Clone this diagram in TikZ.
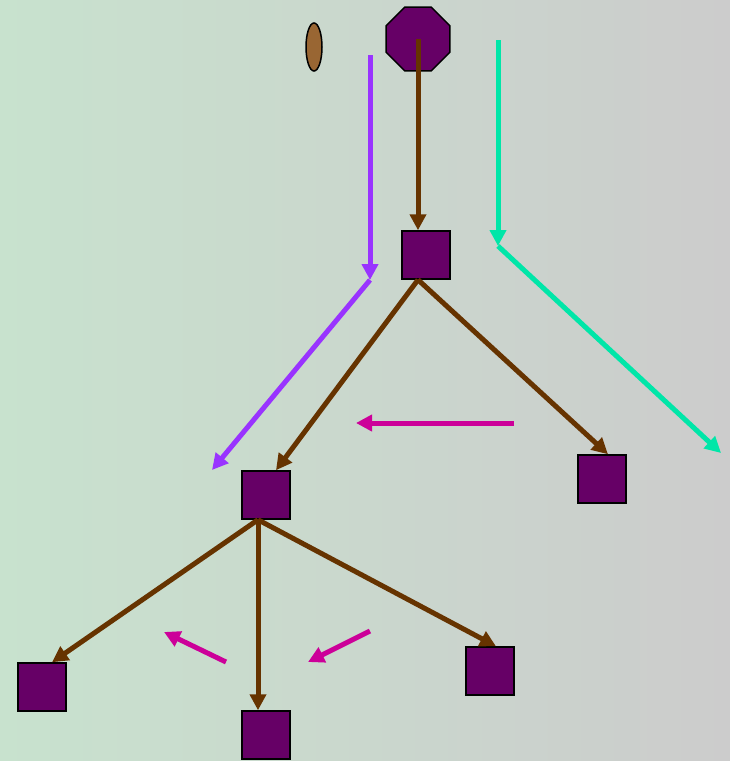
\documentclass[tikz,border=0pt]{standalone}
\usepackage{xcolor}
\usetikzlibrary{shapes.geometric,arrows.meta}
\definecolor{plum}{RGB}{102,0,102}
\definecolor{bark}{RGB}{102,51,0}
\definecolor{seed}{RGB}{153,102,51}
\definecolor{violet}{RGB}{153,51,255}
\definecolor{mint}{RGB}{0,230,168}
\definecolor{rose}{RGB}{204,0,153}
\definecolor{leftbg}{RGB}{200,226,206}
\definecolor{rightbg}{RGB}{204,204,204}

\begin{document}
\begin{tikzpicture}[x=1pt,y=-1pt,
  box/.style={draw=black,line width=1.5pt,fill=plum,minimum size=48pt,inner sep=0pt},
  link/.style={line width=5pt,-{Triangle[length=16pt,width=16pt]}},
  ]
  \shade[left color=leftbg,right color=rightbg] (0,0) rectangle (730,761);
  \useasboundingbox (0,0) rectangle (730,761);

  \node[draw=black,line width=1.5pt,fill=plum,regular polygon,regular polygon sides=8,
        minimum size=69pt,inner sep=0pt] (oct) at (418,39) {};
  \node[draw=black,line width=1.5pt,fill=seed,ellipse,minimum width=16pt,
        minimum height=48pt,inner sep=0pt] (seed) at (314,47) {};

  \node[box] (s-1) at (426,255) {};
  \node[box] (s-2) at (266,495) {};
  \node[box] (s-3) at (602,479) {};
  \node[box] (s-4) at (42,687) {};
  \node[box] (s-5) at (266,735) {};
  \node[box] (s-6) at (490,671) {};

  \coordinate (v-a) at (370,55);
  \coordinate (v-b) at (370,280);
  \coordinate (v-c) at (212,470);
  \coordinate (t-a) at (498,40);
  \coordinate (t-b) at (498,246);
  \coordinate (t-c) at (721,453);
  \coordinate (p-a) at (514,423);
  \coordinate (p-b) at (356,423);
  \coordinate (p-c) at (226,662);
  \coordinate (p-d) at (164,632);
  \coordinate (p-e) at (370,631);
  \coordinate (p-f) at (308,662);

  \path[link,bark]
    (oct.center) edge (s-1.north -| oct.center)
    ([xshift=-8pt]s-1.south) edge ([xshift=10pt]s-2.north)
    ([xshift=-8pt]s-1.south) edge ([xshift=6pt]s-3.north)
    ([xshift=-8pt]s-2.south) edge ([xshift=10pt]s-4.north)
    ([xshift=-8pt]s-2.south) edge ([xshift=-8pt]s-5.north)
    ([xshift=-8pt]s-2.south) edge ([xshift=6pt]s-6.north);

  \path[link,violet]
    (v-a) edge (v-b)
    (v-b) edge (v-c);
  \path[link,mint]
    (t-a) edge (t-b)
    (t-b) edge (t-c);
  \path[link,rose]
    (p-a) edge (p-b)
    (p-c) edge (p-d)
    (p-e) edge (p-f);
\end{tikzpicture}
\end{document}
